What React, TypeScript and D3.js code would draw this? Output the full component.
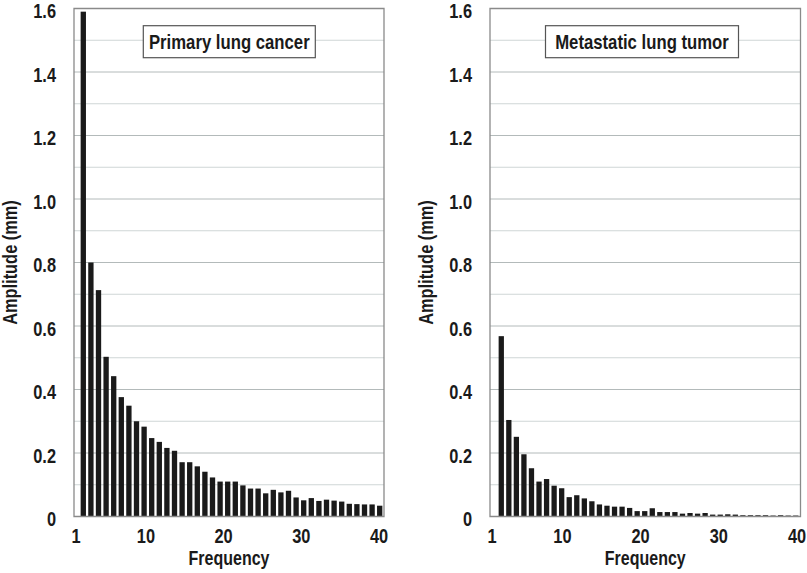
import React from "react";
import * as d3 from "d3";

const frequencies = [
  1, 2, 3, 4, 5, 6, 7, 8, 9, 10, 11, 12, 13, 14, 15, 16, 17, 18, 19, 20,
  21, 22, 23, 24, 25, 26, 27, 28, 29, 30, 31, 32, 33, 34, 35, 36, 37, 38, 39, 40,
];

const primaryAmplitude = [
  1.59, 0.8, 0.713, 0.503, 0.442, 0.376, 0.349, 0.3, 0.283, 0.247,
  0.235, 0.216, 0.207, 0.171, 0.171, 0.158, 0.141, 0.123, 0.11, 0.11,
  0.11, 0.098, 0.088, 0.088, 0.073, 0.084, 0.076, 0.081, 0.06, 0.051,
  0.058, 0.049, 0.053, 0.05, 0.047, 0.04, 0.039, 0.038, 0.038, 0.034,
];

const metastaticAmplitude = [
  0.568, 0.304, 0.251, 0.196, 0.152, 0.11, 0.118, 0.097, 0.089, 0.061,
  0.067, 0.057, 0.048, 0.038, 0.034, 0.031, 0.031, 0.027, 0.017, 0.017,
  0.026, 0.014, 0.014, 0.014, 0.009, 0.011, 0.009, 0.011, 0.006, 0.006,
  0.007, 0.006, 0.004, 0.004, 0.004, 0.004, 0.003, 0.004, 0.003, 0.003,
];

const yTicks = [0, 0.2, 0.4, 0.6, 0.8, 1.0, 1.2, 1.4, 1.6];
const yGridMinor = [0.1, 0.3, 0.5, 0.7, 0.9, 1.1, 1.3, 1.5];
const xTickLabels = [1, 10, 20, 30, 40];

const panelTitles = ["Primary lung cancer", "Metastatic lung tumor"];

const FONT = "'Liberation Sans', Arial, Helvetica, sans-serif";
const SQUEEZE = 0.82;

type NTProps = {
  x: number;
  y: number;
  size: number;
  anchor?: "start" | "middle" | "end";
  rotate?: number;
  children: React.ReactNode;
};

function NarrowText({ x, y, size, anchor = "start", rotate = 0, children }: NTProps) {
  return (
    <g transform={`translate(${x},${y}) rotate(${rotate}) scale(${SQUEEZE},1)`}>
      <text
        x={0}
        y={0}
        textAnchor={anchor}
        fontFamily={FONT}
        fontWeight="bold"
        fontSize={size}
        fill="#1a1a1a"
      >
        {children}
      </text>
    </g>
  );
}

type PanelProps = {
  values: number[];
  title: string;
  frameLeft: number;
  frameRight: number;
  barRange: [number, number];
  tickRange: [number, number];
  titleBox: [number, number];
};

function Panel({ values, title, frameLeft, frameRight, barRange, tickRange, titleBox }: PanelProps) {
  const yBottom = 516.5;
  const yTop = 8.5;
  const y = d3.scaleLinear().domain([0, 1.6]).range([yBottom, yTop]);
  const x = d3
    .scaleBand<number>()
    .domain(frequencies)
    .range(barRange)
    .paddingInner(0.3)
    .paddingOuter(0.15);
  const xt = d3.scaleLinear().domain([1, 40]).range(tickRange);
  const fmt = (d: number) => (d === 0 ? "0" : d3.format(".1f")(d));
  const [boxCx, boxW] = titleBox;

  return (
    <g>
      {yGridMinor.map((d) => (
        <line key={"m" + d} x1={frameLeft} x2={frameRight} y1={y(d)} y2={y(d)} stroke="#cfd6d6" strokeWidth={1} />
      ))}
      {yTicks.slice(1, -1).map((d) => (
        <line key={"M" + d} x1={frameLeft} x2={frameRight} y1={y(d)} y2={y(d)} stroke="#b3baba" strokeWidth={1} />
      ))}
      {values.map((v, i) => (
        <rect
          key={i}
          x={x(frequencies[i])}
          width={x.bandwidth()}
          y={y(v)}
          height={yBottom - y(v)}
          fill="#1a1a1a"
        />
      ))}
      <path
        d={`M${frameLeft},${yBottom}V${yTop}H${frameRight}V${yBottom}Z`}
        fill="none"
        stroke="#8a8a8a"
        strokeWidth={1.3}
      />
      {yTicks.map((d) => (
        <NarrowText key={"yl" + d} x={frameLeft - 18} y={y(d) + 9.5} size={20} anchor="end">
          {fmt(d)}
        </NarrowText>
      ))}
      {xTickLabels.map((d) => (
        <NarrowText key={"xl" + d} x={xt(d)} y={543} size={20} anchor="middle">
          {d}
        </NarrowText>
      ))}
      <NarrowText x={(frameLeft + frameRight) / 2} y={565} size={19.5} anchor="middle">
        Frequency
      </NarrowText>
      <NarrowText x={frameLeft - 57.5} y={(yTop + yBottom) / 2} size={20} anchor="middle" rotate={-90}>
        Amplitude (mm)
      </NarrowText>
      <rect
        x={boxCx - boxW / 2}
        y={25.7}
        width={boxW}
        height={32}
        fill="#ffffff"
        stroke="#555555"
        strokeWidth={1.2}
      />
      <NarrowText x={boxCx} y={48.5} size={20.4} anchor="middle">
        {title}
      </NarrowText>
    </g>
  );
}

export default function App() {
  return (
    <svg
      width={807}
      height={573}
      style={{ position: "absolute", left: 0, top: 0, background: "#ffffff" }}
    >
      <rect width={807} height={573} fill="#ffffff" />
      <Panel
        values={primaryAmplitude}
        title={panelTitles[0]}
        frameLeft={74}
        frameRight={384}
        barRange={[79.5, 383.5]}
        tickRange={[76, 379]}
        titleBox={[229.3, 172]}
      />
      <Panel
        values={metastaticAmplitude}
        title={panelTitles[1]}
        frameLeft={490}
        frameRight={800.5}
        barRange={[497.5, 799.5]}
        tickRange={[492, 797]}
        titleBox={[642, 193]}
      />
    </svg>
  );
}
